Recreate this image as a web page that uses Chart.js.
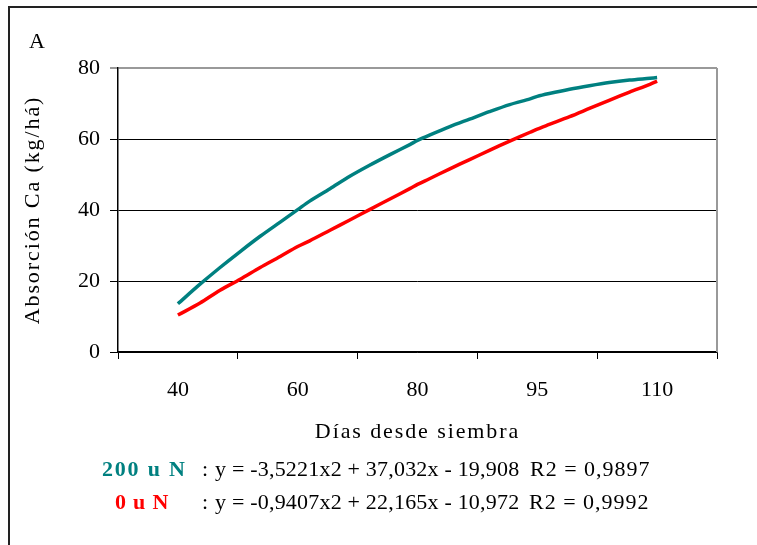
<!DOCTYPE html>
<html>
<head>
<meta charset="utf-8">
<script src="https://cdn.jsdelivr.net/npm/chart.js@4.4.1/dist/chart.umd.min.js"></script>
<style>
  html, body { margin: 0; padding: 0; background: #fff; }
  #wrap { position: relative; width: 757px; height: 545px; overflow: hidden; background: #fff; }
  #c { position: absolute; left: 0; top: 0; }
  .frame { position: absolute; left: 8px; top: 6px; width: 800px; height: 600px; border-left: 2px solid #222; border-top: 2px solid #222; box-sizing: border-box; }
  .t { position: absolute; font-family: "Liberation Serif", "Times New Roman", serif; font-size: 22px; line-height: 22px; color: #000; white-space: pre; }
  .b { font-weight: bold; }
</style>
</head>
<body>
<div id="wrap">
  <canvas id="c" width="757" height="545"></canvas>
  <div class="frame"></div>
  <div class="t" style="left:29px; top:30px;">A</div>
  <div class="t b" style="left:102px; top:458px; color:#008080; letter-spacing:1.8px;">200 u N</div>
  <div class="t" style="left:202px; top:458px;">:</div>
  <div class="t" style="left:215px; top:458px; letter-spacing:0.2px;">y = -3,5221x2 + 37,032x - 19,908</div>
  <div class="t" style="left:530px; top:458px; letter-spacing:1px;">R2 = 0,9897</div>
  <div class="t b" style="left:115px; top:491px; color:#FF0000; letter-spacing:0.8px;">0 u N</div>
  <div class="t" style="left:202px; top:491px;">:</div>
  <div class="t" style="left:215px; top:491px; letter-spacing:0.2px;">y = -0,9407x2 + 22,165x - 10,972</div>
  <div class="t" style="left:529px; top:491px; letter-spacing:1px;">R2 = 0,9992</div>
</div>
<script>
// Category labels of the x axis (días desde siembra)
const categories = ['40', '60', '80', '95', '110'];
// Positions along the category axis (0 = "40", 4 = "110") where the curves were read
const xPos = [0, 0.185, 0.352, 0.52, 0.687, 0.854, 1.0, 1.1, 1.27, 1.435, 1.6, 1.77, 1.94, 2.0,
              2.1, 2.27, 2.435, 2.6, 2.77, 2.94, 3.0, 3.1, 3.27, 3.435, 3.6, 3.77, 3.94, 4.0];
// Absorción Ca (kg/há), 200 u N
const series200 = [13.6, 19.1, 23.8, 28.3, 32.6, 36.6, 40.1, 42.5, 46.0, 49.5, 52.6, 55.6, 58.5, 59.6,
                   61.1, 63.5, 65.6, 67.7, 69.7, 71.3, 72.0, 72.8, 74.0, 75.0, 75.9, 76.6, 77.1, 77.3];
// Absorción Ca (kg/há), 0 u N
const series0 = [10.4, 13.8, 17.4, 20.5, 23.8, 26.9, 29.7, 31.3, 34.3, 37.2, 40.1, 43.1, 46.1, 47.2,
                 48.8, 51.6, 54.2, 56.8, 59.4, 61.9, 62.8, 64.1, 66.3, 68.6, 70.9, 73.2, 75.4, 76.3];
// Y axis ticks
const yTicks = [0, 20, 40, 60, 80];

const FONT = { family: '"Liberation Serif", "Times New Roman", serif', size: 22 };

const pts = arr => arr.map((v, i) => ({ x: xPos[i], y: v }));

const frameBorder = {
  id: 'frameBorder',
  beforeDatasetsDraw(chart) {
    const { ctx, chartArea: a } = chart;
    ctx.save();
    ctx.strokeStyle = '#999';
    ctx.lineWidth = 2;
    ctx.beginPath();
    ctx.moveTo(a.right, a.top);
    ctx.lineTo(a.right, a.bottom);
    ctx.stroke();
    ctx.restore();
  }
};

const chart = new Chart(document.getElementById('c'), {
  type: 'line',
  data: {
    labels: categories,
    datasets: [
      { label: '200 u N', data: pts(series200), xAxisID: 'x2', borderColor: '#008080', borderWidth: 3.5,
        pointRadius: 0, tension: 0.3, fill: false },
      { label: '0 u N', data: pts(series0), xAxisID: 'x2', borderColor: '#FF0000', borderWidth: 3.5,
        pointRadius: 0, tension: 0.3, fill: false }
    ]
  },
  options: {
    responsive: false,
    animation: false,
    devicePixelRatio: 1,
    layout: { padding: { left: 0, top: 68, right: 40, bottom: 93 } },
    plugins: { legend: { display: false }, tooltip: { enabled: false } },
    scales: {
      x: {
        type: 'category',
        labels: categories,
        position: 'bottom',
        offset: true,
        grid: { offset: true, drawOnChartArea: false, tickLength: 7, color: '#000', lineWidth: 1 },
        border: { color: '#000', width: 1.5 },
        ticks: { font: FONT, color: '#000', padding: 18, maxRotation: 0 },
        title: { display: true, text: 'Días desde siembra', font: FONT, color: '#000', padding: { top: 0, bottom: 7 } },
        afterFit(s) { s.height = 100; }
      },
      x2: { type: 'linear', min: -0.5, max: 4.5, display: false },
      y: {
        min: 0, max: 80,
        afterBuildTicks(s) { s.ticks = yTicks.map(v => ({ value: v })); },
        grid: {
          tickLength: 8,
          color: c => (c.tick && c.tick.value === 80 ? '#999' : '#000'),
          lineWidth: c => (c.tick && c.tick.value === 80 ? 2 : 1)
        },
        border: { color: '#000', width: 1.5 },
        ticks: { font: FONT, color: '#000', padding: 10 },
        title: { display: true, text: 'Absorción Ca (kg/há)', font: FONT, color: '#000', padding: { top: 20, bottom: 0 } },
        afterFit(s) { s.width = 118; }
      }
    }
  },
  plugins: [frameBorder]
});

// Axis titles in the reference are drawn with wide letter spacing
['x', 'y'].forEach(id => {
  const sc = chart.scales[id];
  const orig = sc.drawTitle.bind(sc);
  sc.drawTitle = function () {
    const ctx = this.ctx;
    ctx.save();
    if ('letterSpacing' in ctx) ctx.letterSpacing = '1.9px';
    orig();
    ctx.restore();
  };
});
chart.draw();
</script>
</body>
</html>
